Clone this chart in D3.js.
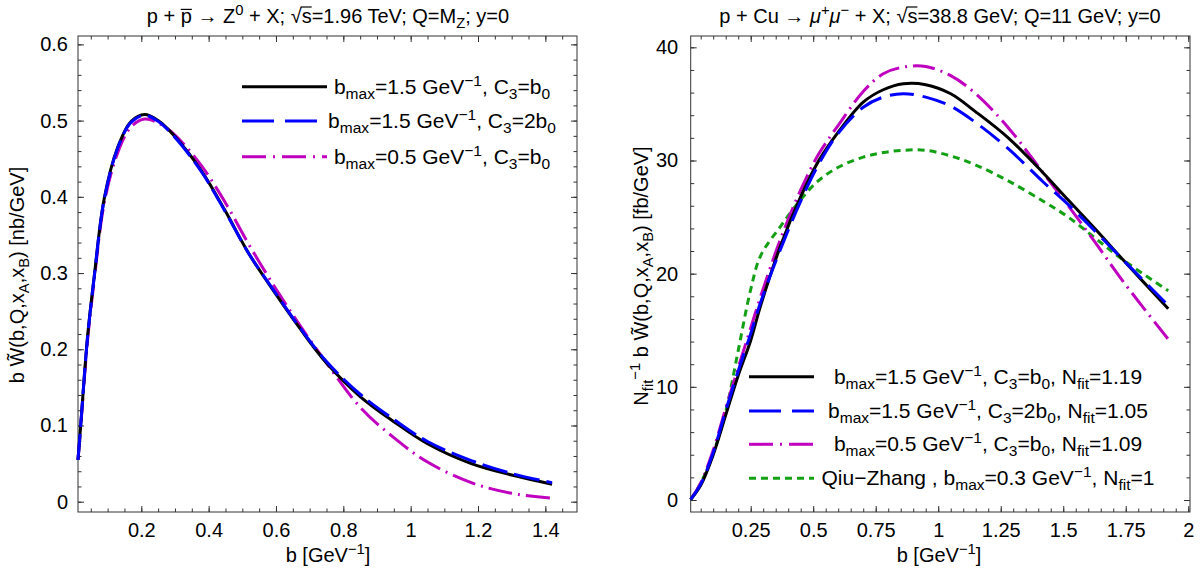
<!DOCTYPE html>
<html>
<head>
<meta charset="utf-8">
<script src="https://cdn.jsdelivr.net/npm/d3@7"></script>
<style>
  body { margin: 0; background: #fff; }
  svg { font-family: "Liberation Sans", Arial, Helvetica, sans-serif; }
</style>
</head>
<body>
<svg id="chart" width="1202" height="568"></svg>
<script>
"use strict"

// ---- left panel: p pbar -> Z0, sqrt(s)=1.96 TeV ----
const leftB       = [0.012, 0.02, 0.04, 0.06, 0.09, 0.13, 0.17, 0.21, 0.25, 0.30, 0.38, 0.45, 0.52, 0.60, 0.67, 0.75, 0.85, 0.95, 1.05, 1.18, 1.30, 1.42];
const leftBlack   = [0.055, 0.100, 0.215, 0.295, 0.398, 0.465, 0.499, 0.508, 0.500, 0.479, 0.433, 0.381, 0.325, 0.272, 0.228, 0.182, 0.138, 0.105, 0.076, 0.050, 0.035, 0.023];
const leftBlue    = [0.055, 0.100, 0.214, 0.294, 0.397, 0.464, 0.498, 0.507, 0.499, 0.478, 0.432, 0.380, 0.325, 0.273, 0.229, 0.184, 0.141, 0.108, 0.079, 0.054, 0.037, 0.025];
const leftMagenta = [0.055, 0.098, 0.210, 0.290, 0.392, 0.458, 0.492, 0.502, 0.497, 0.481, 0.440, 0.392, 0.337, 0.279, 0.232, 0.182, 0.124, 0.084, 0.052, 0.025, 0.011, 0.0045];
const leftXTicks  = [0.2, 0.4, 0.6, 0.8, 1, 1.2, 1.4];
const leftYTicks  = [0, 0.1, 0.2, 0.3, 0.4, 0.5, 0.6];

// ---- right panel: p Cu -> mu+ mu-, sqrt(s)=38.8 GeV ----
const rightB       = [0.01, 0.05, 0.10, 0.15, 0.20, 0.25, 0.29, 0.37, 0.45, 0.52, 0.60, 0.70, 0.78, 0.86, 0.95, 1.05, 1.15, 1.28, 1.42, 1.52, 1.63, 1.74, 1.92];
const rightBlack   = [0.05, 1.3, 4.0, 7.5, 11.0, 14.1, 17.2, 22.5, 26.8, 29.9, 32.5, 35.15, 36.25, 36.78, 36.7, 35.9, 34.3, 32.0, 28.9, 26.5, 23.9, 21.2, 16.9];
const rightBlue    = [0.05, 1.4, 4.2, 7.9, 11.4, 14.7, 17.5, 22.2, 26.4, 29.6, 32.4, 34.7, 35.6, 35.9, 35.6, 34.8, 33.35, 31.05, 28.1, 26.1, 23.7, 21.2, 17.2];
const rightMagenta = [0.05, 1.5, 4.4, 8.1, 11.7, 15.2, 18.0, 23.1, 27.4, 30.5, 33.1, 36.1, 37.66, 38.25, 38.3, 37.5, 35.9, 32.9, 28.9, 26.0, 22.7, 19.3, 14.2];
const rightGreen   = [0.05, 1.5, 4.1, 7.8, 13.2, 18.6, 21.6, 24.2, 26.55, 28.2, 29.4, 30.3, 30.7, 30.9, 30.9, 30.4, 29.6, 28.2, 26.4, 25.0, 23.1, 21.2, 18.5];
const rightXTicks  = [0.25, 0.5, 0.75, 1, 1.25, 1.5, 1.75, 2];
const rightYTicks  = [0, 10, 20, 30, 40];

const svg = d3.select("#chart");
const FS = 20;       // ticks, titles, axis labels
const LEG_FS = 21;   // legend entries

// Writes a list of [text, mode] pieces into a text element; mode is "", "sub", "sup" or "it".
function rich(text, parts) {
    let shift = 0;
    parts.forEach(([t, mode]) => {
        let target = mode === "sub" ? 5 : (mode === "sup" ? -8 : 0);
        let ts = text.append("tspan").attr("dy", target - shift).text(t);
        if (mode === "sub" || mode === "sup") ts.attr("font-size", "0.74em");
        if (mode === "it") ts.attr("font-style", "italic");
        shift = target;
    });
    return text;
}

// Bar drawn over one character of a text element.
function overbar(g, text, idx, baseline, rise, fromPrev) {
    let node = text.node();
    let e = node.getExtentOfChar(idx);
    let x0 = e.x;
    if (fromPrev) {
        let p = node.getExtentOfChar(idx - 1);
        x0 = p.x + p.width - 1;
    }
    g.append("line")
        .attr("x1", x0).attr("x2", e.x + e.width)
        .attr("y1", baseline - rise).attr("y2", baseline - rise)
        .attr("stroke", "#000").attr("stroke-width", 1.2);
}

function axisStyle(sel) {
    sel.attr("font-family", null).attr("font-size", FS);
    sel.select(".domain").remove();
    sel.selectAll(".tick line").attr("stroke", "#333");
    sel.selectAll(".tick text").attr("fill", "#000");
}

function frame(g, x, y, xMajor, xMinor, yMajor, yMinor, yPad) {
    let [xl, xr] = x.range();
    let [yb, yt] = y.range();
    let fmt = d => String(d);

    g.append("g").attr("transform", `translate(0,${yb})`)
        .call(d3.axisBottom(x).tickValues(xMinor).tickSize(-3.5).tickSizeOuter(0).tickFormat(""))
        .call(axisStyle);
    g.append("g").attr("transform", `translate(0,${yb})`)
        .call(d3.axisBottom(x).tickValues(xMajor).tickSize(-6).tickSizeOuter(0).tickPadding(11).tickFormat(fmt))
        .call(axisStyle);
    g.append("g").attr("transform", `translate(0,${yt})`)
        .call(d3.axisTop(x).tickValues(xMinor).tickSize(-3.5).tickSizeOuter(0).tickFormat(""))
        .call(axisStyle);
    g.append("g").attr("transform", `translate(0,${yt})`)
        .call(d3.axisTop(x).tickValues(xMajor).tickSize(-6).tickSizeOuter(0).tickFormat(""))
        .call(axisStyle);

    g.append("g").attr("transform", `translate(${xl},0)`)
        .call(d3.axisLeft(y).tickValues(yMinor).tickSize(-3.5).tickSizeOuter(0).tickFormat(""))
        .call(axisStyle);
    g.append("g").attr("transform", `translate(${xl},0)`)
        .call(d3.axisLeft(y).tickValues(yMajor).tickSize(-6).tickSizeOuter(0).tickPadding(yPad).tickFormat(fmt))
        .call(axisStyle);
    g.append("g").attr("transform", `translate(${xr},0)`)
        .call(d3.axisRight(y).tickValues(yMinor).tickSize(-3.5).tickSizeOuter(0).tickFormat(""))
        .call(axisStyle);
    g.append("g").attr("transform", `translate(${xr},0)`)
        .call(d3.axisRight(y).tickValues(yMajor).tickSize(-6).tickSizeOuter(0).tickFormat(""))
        .call(axisStyle);

    g.append("rect")
        .attr("x", xl).attr("y", yt)
        .attr("width", xr - xl).attr("height", yb - yt)
        .attr("fill", "none").attr("stroke", "#333").attr("stroke-width", 1);
}

function curves(g, x, y, bs, series) {
    let line = d3.line()
        .x(d => x(d[0]))
        .y(d => y(d[1]))
        .curve(d3.curveCatmullRom.alpha(0.5));
    series.forEach(s => {
        g.append("path")
            .datum(bs.map((b, i) => [b, s.values[i]]))
            .attr("d", line)
            .attr("fill", "none")
            .attr("stroke", s.color)
            .attr("stroke-width", 3)
            .attr("stroke-dasharray", s.dash || null);
    });
}

function legend(g, items, x1, x2, cx, rows) {
    items.forEach((it, i) => {
        g.append("line")
            .attr("x1", x1).attr("x2", x2)
            .attr("y1", rows[i]).attr("y2", rows[i])
            .attr("stroke", it.color).attr("stroke-width", 3)
            .attr("stroke-dasharray", it.legendDash || null);
        let t = g.append("text")
            .attr("x", cx).attr("y", rows[i] + 7)
            .attr("text-anchor", "middle")
            .attr("font-size", LEG_FS);
        rich(t, it.label);
    });
}

const BLACK = "#000000", BLUE = "#0000ff", MAGENTA = "#bf00bf", GREEN = "#14a014";

// ---------- left panel ----------
{
    let g = svg.append("g");
    let x = d3.scaleLinear().domain([0.012, 1.494]).range([78, 577]);
    let y = d3.scaleLinear().domain([-0.0135, 0.611]).range([512, 36]);

    let minorX = d3.range(1, 30).map(i => +(i * 0.05).toFixed(2));
    let minorY = d3.range(0, 31).map(i => +(i * 0.02).toFixed(2));
    frame(g, x, y, leftXTicks, minorX, leftYTicks, minorY, 10);

    curves(g, x, y, leftB, [
        {values: leftMagenta, color: MAGENTA, dash: "24,6,2,6"},
        {values: leftBlack, color: BLACK},
        {values: leftBlue, color: BLUE, dash: "26,7"}
    ]);

    legend(g, [
        {color: BLACK, label: [["b", ""], ["max", "sub"], ["=1.5 GeV", ""], ["\u22121", "sup"], [", C", ""], ["3", "sub"], ["=b", ""], ["0", "sub"]]},
        {color: BLUE, legendDash: "32,11", label: [["b", ""], ["max", "sub"], ["=1.5 GeV", ""], ["\u22121", "sup"], [", C", ""], ["3", "sub"], ["=2b", ""], ["0", "sub"]]},
        {color: MAGENTA, legendDash: "24,7,2,7", label: [["b", ""], ["max", "sub"], ["=0.5 GeV", ""], ["\u22121", "sup"], [", C", ""], ["3", "sub"], ["=b", ""], ["0", "sub"]]}
    ], 242, 327, 442, [86.7, 121, 156.7]);

    let title = g.append("text").attr("x", 328).attr("y", 23)
        .attr("text-anchor", "middle").attr("font-size", FS);
    rich(title, [["p + p \u2192 Z", ""], ["0", "sup"], [" + X; \u221As=1.96 TeV; Q=M", ""], ["Z", "sub"], ["; y=0", ""]]);
    let full = title.node().textContent;
    overbar(g, title, 4, 23, FS * 0.68, false);
    overbar(g, title, full.indexOf("\u221A") + 1, 23, FS * 0.8, true);

    rich(g.append("text").attr("x", 328).attr("y", 562)
        .attr("text-anchor", "middle").attr("font-size", FS),
        [["b [GeV", ""], ["\u22121", "sup"], ["]", ""]]);

    rich(g.append("text").attr("transform", "translate(24,275) rotate(-90)")
        .attr("text-anchor", "middle").attr("font-size", FS),
        [["b W\u0303(b,Q,x", ""], ["A", "sub"], [",x", ""], ["B", "sub"], [") [nb/GeV]", ""]]);
}

// ---------- right panel ----------
{
    let g = svg.append("g");
    let x = d3.scaleLinear().domain([0.01, 2.007]).range([690.7, 1190]);
    let y = d3.scaleLinear().domain([-1.06, 41.0]).range([512, 36]);

    let minorX = d3.range(1, 41).map(i => +(i * 0.05).toFixed(2));
    let minorY = d3.range(0, 21).map(i => i * 2);
    frame(g, x, y, rightXTicks, minorX, rightYTicks, minorY, 12.5);

    curves(g, x, y, rightB, [
        {values: rightGreen, color: GREEN, dash: "7,5"},
        {values: rightMagenta, color: MAGENTA, dash: "22,6,2,6"},
        {values: rightBlack, color: BLACK},
        {values: rightBlue, color: BLUE, dash: "24,9"}
    ]);

    legend(g, [
        {color: BLACK, label: [["b", ""], ["max", "sub"], ["=1.5 GeV", ""], ["\u22121", "sup"], [", C", ""], ["3", "sub"], ["=b", ""], ["0", "sub"], [", N", ""], ["fit", "sub"], ["=1.19", ""]]},
        {color: BLUE, legendDash: "32,11", label: [["b", ""], ["max", "sub"], ["=1.5 GeV", ""], ["\u22121", "sup"], [", C", ""], ["3", "sub"], ["=2b", ""], ["0", "sub"], [", N", ""], ["fit", "sub"], ["=1.05", ""]]},
        {color: MAGENTA, legendDash: "24,7,2,7", label: [["b", ""], ["max", "sub"], ["=0.5 GeV", ""], ["\u22121", "sup"], [", C", ""], ["3", "sub"], ["=b", ""], ["0", "sub"], [", N", ""], ["fit", "sub"], ["=1.09", ""]]},
        {color: GREEN, legendDash: "7,5", label: [["Qiu\u2212Zhang , b", ""], ["max", "sub"], ["=0.3 GeV", ""], ["\u22121", "sup"], [", N", ""], ["fit", "sub"], ["=1", ""]]}
    ], 749, 814, 988, [376.7, 411, 444.3, 478.3]);

    let title = g.append("text").attr("x", 940).attr("y", 23)
        .attr("text-anchor", "middle").attr("font-size", FS);
    rich(title, [["p + Cu \u2192 ", ""], ["\u03BC", "it"], ["+", "sup"], ["\u03BC", "it"], ["\u2212", "sup"], [" + X; \u221As=38.8 GeV; Q=11 GeV; y=0", ""]]);
    let full = title.node().textContent;
    overbar(g, title, full.indexOf("\u221A") + 1, 23, FS * 0.8, true);

    rich(g.append("text").attr("x", 939).attr("y", 562)
        .attr("text-anchor", "middle").attr("font-size", FS),
        [["b [GeV", ""], ["\u22121", "sup"], ["]", ""]]);

    rich(g.append("text").attr("transform", "translate(648,276) rotate(-90)")
        .attr("text-anchor", "middle").attr("font-size", FS),
        [["N", ""], ["fit", "sub"], ["\u22121", "sup"], [" b W\u0303(b,Q,x", ""], ["A", "sub"], [",x", ""], ["B", "sub"], [") [fb/GeV]", ""]]);
}
</script>
</body>
</html>
